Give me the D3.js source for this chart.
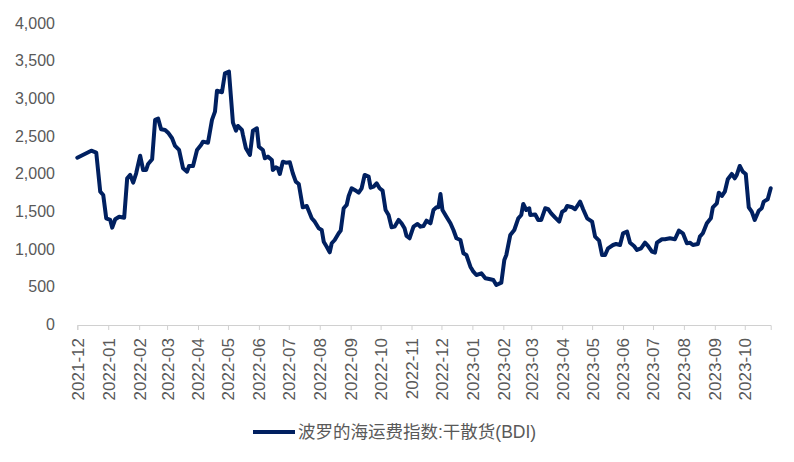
<!DOCTYPE html>
<html>
<head>
<meta charset="utf-8">
<script src="https://cdn.jsdelivr.net/npm/d3@7"></script>
<style>
  body { margin: 0; background: #fff; }
  text { font-family: "Liberation Sans", Arial, "Noto Sans CJK SC", sans-serif; }
</style>
</head>
<body>
<div class="chart"></div>
<script>
// BDI values
var dates = [
  "2021-12-01","2021-12-15","2021-12-20","2021-12-24","2021-12-27","2021-12-30",
  "2022-01-03","2022-01-05","2022-01-08","2022-01-12","2022-01-17","2022-01-20","2022-01-23","2022-01-26","2022-01-29",
  "2022-02-02","2022-02-05","2022-02-08","2022-02-10","2022-02-14","2022-02-17","2022-02-20","2022-02-23","2022-02-27",
  "2022-03-02","2022-03-06","2022-03-09","2022-03-13","2022-03-17","2022-03-21","2022-03-23","2022-03-27","2022-03-31",
  "2022-04-04","2022-04-06","2022-04-11","2022-04-15","2022-04-18","2022-04-20","2022-04-25","2022-04-28",
  "2022-05-02","2022-05-06","2022-05-09","2022-05-11","2022-05-15","2022-05-16","2022-05-19","2022-05-23","2022-05-26","2022-05-30",
  "2022-06-01","2022-06-05","2022-06-07","2022-06-10","2022-06-14","2022-06-15","2022-06-18","2022-06-20","2022-06-22","2022-06-25","2022-06-28",
  "2022-07-02","2022-07-05","2022-07-08","2022-07-11","2022-07-15","2022-07-19","2022-07-24","2022-07-27","2022-07-31",
  "2022-08-03","2022-08-05","2022-08-08","2022-08-11","2022-08-13","2022-08-16","2022-08-20","2022-08-22","2022-08-25","2022-08-28","2022-08-30",
  "2022-09-02","2022-09-05","2022-09-09","2022-09-12","2022-09-15","2022-09-19","2022-09-21","2022-09-24","2022-09-27","2022-09-30",
  "2022-10-03","2022-10-06","2022-10-09","2022-10-12","2022-10-15","2022-10-19","2022-10-22","2022-10-25","2022-10-27","2022-10-30",
  "2022-11-03","2022-11-07","2022-11-10","2022-11-13","2022-11-16","2022-11-20","2022-11-23","2022-11-26","2022-11-28","2022-11-30",
  "2022-12-02","2022-12-06","2022-12-10","2022-12-13","2022-12-16","2022-12-20","2022-12-23","2022-12-26","2022-12-30",
  "2023-01-02","2023-01-05","2023-01-10","2023-01-14","2023-01-19","2023-01-22","2023-01-25","2023-01-30",
  "2023-02-02","2023-02-04","2023-02-08","2023-02-12","2023-02-16","2023-02-19","2023-02-21","2023-02-24","2023-02-27","2023-02-28",
  "2023-03-05","2023-03-08","2023-03-11","2023-03-15","2023-03-18","2023-03-21","2023-03-25","2023-03-29",
  "2023-04-01","2023-04-04","2023-04-06","2023-04-11","2023-04-14","2023-04-19","2023-04-22","2023-04-26",
  "2023-05-01","2023-05-04","2023-05-08","2023-05-11","2023-05-14","2023-05-17","2023-05-22","2023-05-25","2023-05-29",
  "2023-06-01","2023-06-05","2023-06-08","2023-06-12","2023-06-15","2023-06-19","2023-06-23","2023-06-26","2023-06-30",
  "2023-07-03","2023-07-05","2023-07-10","2023-07-13","2023-07-18","2023-07-23","2023-07-27","2023-07-31",
  "2023-08-04","2023-08-07","2023-08-10","2023-08-15","2023-08-17","2023-08-20","2023-08-24","2023-08-28","2023-08-30",
  "2023-09-03","2023-09-05","2023-09-08","2023-09-11","2023-09-14","2023-09-18","2023-09-21","2023-09-23","2023-09-26","2023-09-29",
  "2023-10-02","2023-10-05","2023-10-08","2023-10-11","2023-10-15","2023-10-18","2023-10-20","2023-10-24","2023-10-27"
];
var bdi = [
  2213,2306,2280,1762,1718,1409,
  1387,1285,1396,1430,1417,1940,1984,1882,2006,
  2240,2050,2050,2130,2192,2714,2731,2590,2581,
  2545,2471,2369,2316,2073,2028,2103,2103,2316,
  2382,2426,2412,2714,2824,3102,3081,3333,
  3355,2678,2572,2634,2581,2515,2338,2249,2572,2603,
  2359,2316,2205,2227,2183,2050,2086,2073,1997,2160,2147,
  2152,2006,1895,1864,1555,1572,1409,1364,1276,
  1254,1099,1032,958,1078,1121,1210,1245,1542,1586,1705,
  1807,1785,1749,1807,1984,1961,1815,1829,1874,1807,
  1776,1519,1453,1290,1298,1387,1343,1276,1174,1144,
  1298,1334,1298,1307,1377,1343,1519,1555,1555,1732,
  1519,1430,1343,1254,1144,1121,945,922,767,
  701,657,679,613,600,591,524,555,
  856,922,1188,1254,1409,1453,1599,1519,1542,1453,
  1460,1387,1387,1542,1529,1475,1417,1364,
  1497,1519,1572,1555,1529,1630,1529,1409,
  1364,1165,1112,922,922,1011,1055,1068,1055,
  1210,1232,1085,1042,989,1011,1085,1042,966,
  953,1085,1131,1131,1144,1131,1245,1210,
  1078,1085,1055,1068,1165,1210,1343,1409,1555,
  1608,1749,1705,1762,1927,1997,1940,1984,2103,2028,
  1997,1555,1497,1387,1510,1542,1630,1661,1807
];
var yTicks = [0, 500, 1000, 1500, 2000, 2500, 3000, 3500, 4000];
var axisStart = "2021-12-01", axisEnd = "2023-10-27";
var seriesName = "波罗的海运费指数:干散货(BDI)";

var width = 794, height = 462;
var parse = d3.timeParse("%Y-%m-%d");
var data = dates.map(function(d, i) { return {date: parse(d), value: bdi[i]}; });

var svg = d3.select(".chart").append("svg")
  .attr("width", width)
  .attr("height", height);

var x = d3.scaleTime()
  .domain([parse(axisStart), parse(axisEnd)])
  .range([77.3, 770.7]);
var y = d3.scaleLinear()
  .domain([0, 4000])
  .range([324.5, 23]);

// y labels, no axis line
svg.append("g").selectAll("text")
  .data(yTicks)
  .enter().append("text")
    .attr("x", 55)
    .attr("y", function(d) { return y(d); })
    .attr("dy", "0.35em")
    .attr("text-anchor", "end")
    .attr("font-size", 16)
    .attr("fill", "#595959")
    .text(function(d) { return d3.format(",")(d); });

// x axis
var months = d3.timeMonth.range(parse(axisStart), d3.timeDay.offset(parse(axisEnd), 1));
var xAxis = d3.axisBottom(x)
  .tickValues(months)
  .tickSize(5)
  .tickFormat(d3.timeFormat("%Y-%m"));

var gx = svg.append("g")
  .attr("transform", "translate(0," + 325 + ")")
  .call(xAxis);
gx.select(".domain").attr("stroke", "#d0d0d0").attr("stroke-width", 1);
gx.selectAll(".tick line").attr("stroke", "#d0d0d0");
gx.selectAll(".tick text")
  .attr("font-size", 17)
  .attr("fill", "#595959")
  .attr("font-family", "Liberation Sans, Arial, sans-serif")
  .attr("text-anchor", "end")
  .attr("transform", "rotate(-90)")
  .attr("x", -13)
  .attr("y", 0)
  .attr("dy", "0.35em");

// line
var line = d3.line()
  .x(function(d) { return x(d.date); })
  .y(function(d) { return y(d.value); });

svg.append("path")
  .datum(data)
  .attr("d", line)
  .attr("fill", "none")
  .attr("stroke", "#002060")
  .attr("stroke-width", 4)
  .attr("stroke-linejoin", "round")
  .attr("stroke-linecap", "round");

// legend
var legend = svg.append("g").attr("transform", "translate(253,432)");
legend.append("line")
  .attr("x1", 0).attr("x2", 42)
  .attr("y1", 0).attr("y2", 0)
  .attr("stroke", "#002060")
  .attr("stroke-width", 4);
legend.append("text")
  .attr("x", 45)
  .attr("y", 0)
  .attr("dy", "0.35em")
  .attr("font-size", 17.5)
  .attr("fill", "#595959")
  .text(seriesName);
</script>
</body>
</html>
